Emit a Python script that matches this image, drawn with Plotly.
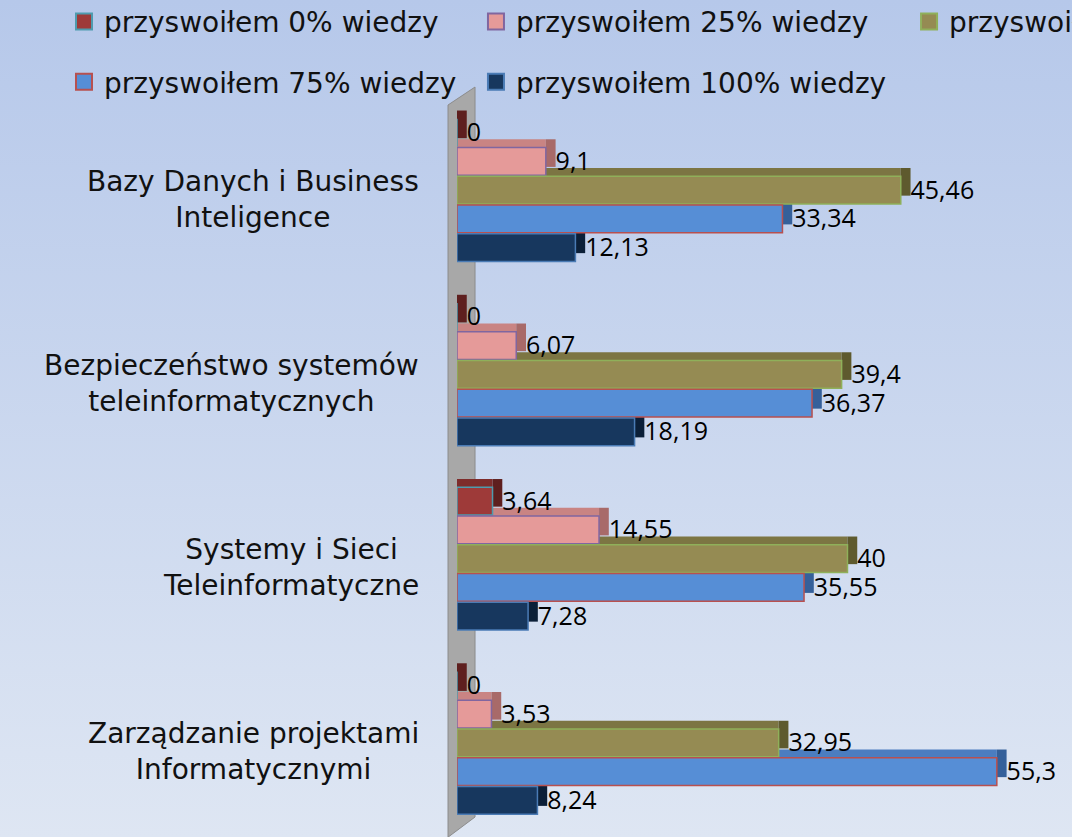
import base64
import plotly.graph_objects as go

# dane
kategorie = [
    "Bazy Danych i Business<br>Inteligence",
    "Bezpieczeństwo systemów<br>teleinformatycznych",
    "Systemy i Sieci<br>Teleinformatyczne",
    "Zarządzanie projektami<br>Informatycznymi",
]
nazwy_serii = [
    "przyswoiłem 0% wiedzy",
    "przyswoiłem 25% wiedzy",
    "przyswoiłem 50% wiedzy",
    "przyswoiłem 75% wiedzy",
    "przyswoiłem 100% wiedzy",
]
wiedza_0 = [0, 0, 3.64, 0]
wiedza_25 = [9.1, 6.07, 14.55, 3.53]
wiedza_50 = [45.46, 39.4, 40, 32.95]
wiedza_75 = [33.34, 36.37, 35.55, 55.3]
wiedza_100 = [12.13, 18.19, 7.28, 8.24]

serie = [wiedza_0, wiedza_25, wiedza_50, wiedza_75, wiedza_100]

# kolory: przód, wierzch, bok, obramowanie
kolory = [
    ("#9E3A39", "#7E2C2B", "#5E1F1E", "#4E9BAE"),
    ("#E59A99", "#C98483", "#A86A69", "#8066A0"),
    ("#958B53", "#7C7543", "#5E5A2E", "#8FB05A"),
    ("#568ED6", "#4B7DC0", "#35609A", "#B8504F"),
    ("#17375E", "#12304F", "#0B1F38", "#4A7BB5"),
]

FONT_OPIS = "DejaVu Sans"
FONT_LICZB = "Open Sans"

krok = 0.156      # odstęp pomiędzy słupkami w grupie (jednostki osi kategorii)
grubosc = 0.15    # grubość przedniej ściany słupka
gleb_x = 1.0      # głębokość 3D w poziomie (jednostki osi wartości)
gleb_y = 0.045    # głębokość 3D w pionie

pozycje = list(range(len(kategorie)))

fig = go.Figure()

# ściana osi (szara płyta za słupkami) – we współrzędnych papieru, bez przycinania
fig.add_shape(
    type="path",
    xref="paper", yref="paper",
    path="M -0.0146 0.9905 L 0.0293 1.0149 L 0.0293 0.0244 L -0.0146 -0.003 Z",
    fillcolor="#A8A8A8",
    line=dict(color="#8C8C8C", width=1),
    layer="below",
)

# wierzchy i boki słupków (efekt 3D)
for i, wartosci in enumerate(serie):
    srodek = (i - 2) * krok
    fig.add_trace(go.Bar(
        y=pozycje,
        x=wartosci,
        orientation="h",
        offset=srodek - grubosc / 2 - gleb_y,
        width=grubosc,
        marker=dict(color=kolory[i][1], line=dict(width=0)),
        showlegend=False,
        hoverinfo="skip",
    ))
    fig.add_trace(go.Bar(
        y=pozycje,
        x=[gleb_x] * len(wartosci),
        base=wartosci,
        orientation="h",
        offset=srodek - grubosc / 2 - gleb_y,
        width=grubosc,
        marker=dict(color=kolory[i][2], line=dict(width=0)),
        showlegend=False,
        hoverinfo="skip",
    ))

# przednie ściany słupków
for i, wartosci in enumerate(serie):
    srodek = (i - 2) * krok
    fig.add_trace(go.Bar(
        y=pozycje,
        x=wartosci,
        orientation="h",
        offset=srodek - grubosc / 2,
        width=grubosc,
        marker=dict(color=kolory[i][0], line=dict(color=kolory[i][3], width=1.5)),
        name=nazwy_serii[i],
        showlegend=False,
    ))

# etykiety wartości
for i, wartosci in enumerate(serie):
    srodek = (i - 2) * krok
    fig.add_trace(go.Scatter(
        y=[p + srodek + 0.012 for p in pozycje],
        x=[v + gleb_x for v in wartosci],
        mode="text",
        text=[f"{v:g}".replace(".", ",") for v in wartosci],
        textposition="middle right",
        textfont=dict(family=FONT_LICZB, size=25, color="#000000"),
        cliponaxis=False,
        showlegend=False,
        hoverinfo="skip",
    ))

# legenda – każda pozycja w osobnej legendzie, jak w oryginale
legendy_xy = [(0.0597, 0.974), (0.444, 0.974), (0.848, 0.974), (0.0597, 0.902), (0.444, 0.902)]
for i, nazwa in enumerate(nazwy_serii):
    lid = "legend" if i == 0 else f"legend{i + 1}"
    fig.add_trace(go.Scatter(
        x=[None], y=[None],
        mode="markers",
        marker=dict(symbol="square", size=16, color=kolory[i][0],
                    line=dict(color=kolory[i][3], width=2)),
        name=nazwa,
        legend=lid,
    ))

# podpisy kategorii (wyśrodkowane wieloliniowo)
for p, kat in zip(pozycje, kategorie):
    fig.add_annotation(
        xref="paper", yref="y",
        x=0, y=p,
        xanchor="right", yanchor="middle",
        xshift=-36, yshift=-9,
        text=kat, align="center", showarrow=False,
        font=dict(family=FONT_OPIS, size=28, color="#111111"),
    )

# tło z gradientem
svg = (
    "<svg xmlns='http://www.w3.org/2000/svg' width='100' height='100' preserveAspectRatio='none'>"
    "<defs><linearGradient id='g' x1='0' y1='0' x2='0' y2='1'>"
    "<stop offset='0' stop-color='#B6C8EA'/><stop offset='1' stop-color='#DEE6F3'/>"
    "</linearGradient></defs><rect width='100' height='100' fill='url(#g)'/></svg>"
)
tlo = "data:image/svg+xml;base64," + base64.b64encode(svg.encode()).decode()

W, H = 1072, 837
L, T, B = 457, 98, 2
pw, ph = W - L, H - T - B

fig.add_layout_image(
    source=tlo, xref="paper", yref="paper",
    x=-L / pw, y=1 + T / ph, sizex=W / pw, sizey=H / ph,
    xanchor="left", yanchor="top", sizing="stretch", layer="below",
)

legend_styl = dict(
    xref="container", yref="container", xanchor="left", yanchor="middle",
    orientation="h", bgcolor="rgba(0,0,0,0)",
    font=dict(family=FONT_OPIS, size=28, color="#111111"),
)
uklad_legend = {}
for i, (lx, ly) in enumerate(legendy_xy):
    lid = "legend" if i == 0 else f"legend{i + 1}"
    uklad_legend[lid] = dict(legend_styl, x=lx, y=ly)

fig.update_layout(
    width=W, height=H,
    margin=dict(l=L, r=0, t=T, b=B, autoexpand=False),
    barmode="overlay",
    paper_bgcolor="#C9D6EE",
    plot_bgcolor="rgba(0,0,0,0)",
    xaxis=dict(range=[0, 63], visible=False, fixedrange=True),
    yaxis=dict(range=[3.5, -0.5], visible=False, fixedrange=True),
    **uklad_legend,
)

fig.write_html(
    "out.html",
    config={"displayModeBar": False},
    post_script="document.body.style.margin='0';document.body.style.overflow='hidden';",
)
